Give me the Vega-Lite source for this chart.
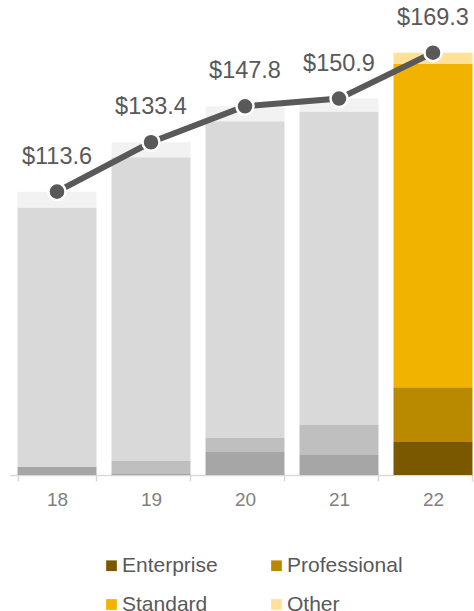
{
  "$schema": "https://vega.github.io/schema/vega-lite/v6.json",
  "width": 470,
  "height": 449,
  "autosize": {"type": "none"},
  "padding": {"left": 10, "top": 26, "right": 0, "bottom": 136},
  "config": {"view": {"stroke": null}, "font": "Liberation Sans"},
  "datasets": {
    "bars": [
      {"year": "18", "segment": "Enterprise", "rank": 1, "value": 3.2},
      {"year": "18", "segment": "Professional", "rank": 2, "value": 0.0},
      {"year": "18", "segment": "Standard", "rank": 3, "value": 104.0},
      {"year": "18", "segment": "Other", "rank": 4, "value": 6.4},
      {"year": "19", "segment": "Enterprise", "rank": 1, "value": 0.4},
      {"year": "19", "segment": "Professional", "rank": 2, "value": 5.2},
      {"year": "19", "segment": "Standard", "rank": 3, "value": 121.8},
      {"year": "19", "segment": "Other", "rank": 4, "value": 6.0},
      {"year": "20", "segment": "Enterprise", "rank": 1, "value": 9.2},
      {"year": "20", "segment": "Professional", "rank": 2, "value": 5.6},
      {"year": "20", "segment": "Standard", "rank": 3, "value": 127.0},
      {"year": "20", "segment": "Other", "rank": 4, "value": 6.0},
      {"year": "21", "segment": "Enterprise", "rank": 1, "value": 8.0},
      {"year": "21", "segment": "Professional", "rank": 2, "value": 12.0},
      {"year": "21", "segment": "Standard", "rank": 3, "value": 125.7},
      {"year": "21", "segment": "Other", "rank": 4, "value": 5.2},
      {"year": "22", "segment": "Enterprise", "rank": 1, "value": 13.2},
      {"year": "22", "segment": "Professional", "rank": 2, "value": 22.0},
      {"year": "22", "segment": "Standard", "rank": 3, "value": 129.6},
      {"year": "22", "segment": "Other", "rank": 4, "value": 4.5}
    ],
    "totals": [
      {"year": "18", "total": 113.6, "label": "$113.6"},
      {"year": "19", "total": 133.4, "label": "$133.4"},
      {"year": "20", "total": 147.8, "label": "$147.8"},
      {"year": "21", "total": 150.9, "label": "$150.9"},
      {"year": "22", "total": 169.3, "label": "$169.3"}
    ]
  },
  "encoding": {
    "x": {
      "field": "year",
      "type": "nominal",
      "sort": null,
      "scale": {"paddingInner": 0.16, "paddingOuter": 0.08},
      "axis": {
        "title": null,
        "labelAngle": 0,
        "labelFontSize": 19,
        "labelColor": "#7f7f7f",
        "labelPadding": 9,
        "domainColor": "#d9d9d9",
        "domainWidth": 1.5,
        "tickColor": "#d9d9d9",
        "tickWidth": 1.5,
        "tickSize": 6,
        "tickBand": "extent"
      }
    }
  },
  "layer": [
    {
      "data": {"name": "bars"},
      "transform": [{"filter": "datum.year != '22'"}],
      "mark": {"type": "bar"},
      "encoding": {
        "y": {"field": "value", "type": "quantitative", "stack": "zero", "scale": {"domain": [0, 180]}, "axis": null},
        "order": {"field": "rank", "type": "quantitative", "sort": "ascending"},
        "color": {
          "field": "segment",
          "type": "nominal",
          "scale": {"domain": ["Enterprise", "Professional", "Standard", "Other"], "range": ["#a6a6a6", "#bfbfbf", "#d9d9d9", "#f2f2f2"]},
          "legend": null
        }
      }
    },
    {
      "data": {"name": "bars"},
      "transform": [{"filter": "datum.year == '22'"}],
      "mark": {"type": "bar"},
      "encoding": {
        "y": {"field": "value", "type": "quantitative", "stack": "zero", "scale": {"domain": [0, 180]}, "axis": null},
        "order": {"field": "rank", "type": "quantitative", "sort": "ascending"},
        "color": {
          "field": "segment",
          "type": "nominal",
          "scale": {"domain": ["Enterprise", "Professional", "Standard", "Other"], "range": ["#7a5800", "#b98a00", "#f2b300", "#ffe199"]},
          "legend": {
            "title": null,
            "orient": "none",
            "direction": "horizontal",
            "legendX": 91,
            "legendY": 529,
            "columns": 2,
            "columnPadding": 48,
            "rowPadding": 17,
            "symbolType": "square",
            "symbolSize": 115,
            "symbolStrokeWidth": 0,
            "symbolOffset": 0,
            "labelFontSize": 21,
            "labelColor": "#595959",
            "labelOffset": 0
          }
        }
      }
    },
    {
      "data": {"name": "totals"},
      "mark": {"type": "line", "color": "#595959", "strokeWidth": 6},
      "encoding": {
        "y": {"field": "total", "type": "quantitative", "scale": {"domain": [0, 180]}, "axis": null}
      }
    },
    {
      "data": {"name": "totals"},
      "mark": {"type": "point", "filled": true, "fill": "#595959", "stroke": "white", "strokeWidth": 2.5, "size": 290, "opacity": 1},
      "encoding": {
        "y": {"field": "total", "type": "quantitative", "scale": {"domain": [0, 180]}, "axis": null}
      }
    },
    {
      "data": {"name": "totals"},
      "mark": {"type": "text", "fontSize": 23.5, "color": "#595959", "baseline": "alphabetic", "dy": -28},
      "encoding": {
        "y": {"field": "total", "type": "quantitative", "scale": {"domain": [0, 180]}, "axis": null},
        "text": {"field": "label"}
      }
    }
  ],
  "resolve": {"scale": {"color": "independent"}}
}
